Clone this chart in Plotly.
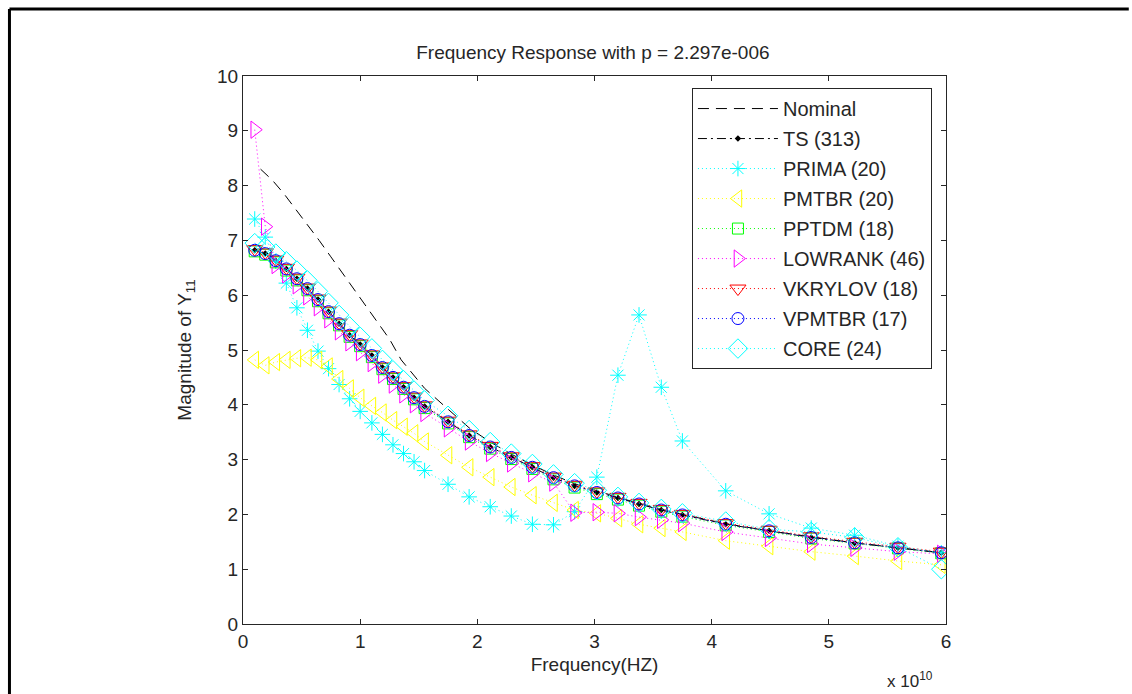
import plotly.graph_objects as go

# Frequency grid (units of 1e10 Hz)
freq = [0.10, 0.19, 0.28, 0.37, 0.46, 0.55, 0.64, 0.73, 0.82, 0.91, 1.00, 1.10, 1.19, 1.28,
        1.37, 1.46, 1.55, 1.75, 1.93, 2.11, 2.29, 2.47, 2.65, 2.83, 3.02, 3.20, 3.38, 3.57,
        3.75, 4.12, 4.49, 4.85, 5.22, 5.59, 5.96]

nominal_freq = [0.15, 0.25, 0.35, 0.45, 0.55, 0.65, 0.75, 0.85, 0.95, 1.05, 1.15, 1.25, 1.35,
                1.45, 1.55, 1.75, 1.93, 2.11, 2.29, 2.47, 2.65, 2.83, 3.02, 3.20, 3.38, 3.57,
                3.75, 4.12, 4.49, 4.85, 5.22, 5.59, 5.96]
nominal = [8.30, 8.10, 7.85, 7.57, 7.30, 7.00, 6.70, 6.40, 6.10, 5.80, 5.50, 5.20, 4.82,
           4.55, 4.30, 3.92, 3.58, 3.32, 3.10, 2.90, 2.72, 2.56, 2.43, 2.31, 2.20, 2.09,
           2.00, 1.83, 1.70, 1.59, 1.48, 1.39, 1.30]

ts = [6.82, 6.76, 6.63, 6.48, 6.30, 6.12, 5.92, 5.70, 5.48, 5.27, 5.10, 4.90, 4.68, 4.50,
      4.32, 4.13, 3.97, 3.69, 3.44, 3.23, 3.04, 2.86, 2.67, 2.52, 2.40, 2.30, 2.19, 2.08,
      1.99, 1.82, 1.70, 1.58, 1.48, 1.39, 1.30]

prima = [7.39, 7.06, 6.62, 6.22, 5.77, 5.36, 4.98, 4.66, 4.37, 4.11, 3.88, 3.67, 3.46, 3.27,
         3.11, 2.96, 2.80, 2.55, 2.32, 2.14, 1.97, 1.82, 1.81, 2.05, 2.68, 4.54, 5.64, 4.32,
         3.34, 2.43, 2.01, 1.75, 1.62, 1.42, 1.30]

pmtbr = [4.82, 4.72, 4.78, 4.82, 4.85, 4.86, 4.82, 4.70, 4.47, 4.30, 4.13, 3.98, 3.86, 3.72,
         3.60, 3.48, 3.33, 3.08, 2.86, 2.68, 2.50, 2.35, 2.21, 2.08, 2.02, 1.93, 1.82, 1.75,
         1.68, 1.52, 1.42, 1.32, 1.24, 1.15, 1.08]

pptdm = [6.80, 6.74, 6.60, 6.45, 6.27, 6.09, 5.89, 5.67, 5.45, 5.24, 5.07, 4.87, 4.65, 4.47,
         4.29, 4.10, 3.94, 3.66, 3.41, 3.20, 3.01, 2.83, 2.64, 2.49, 2.37, 2.27, 2.16, 2.05,
         1.96, 1.80, 1.68, 1.56, 1.47, 1.38, 1.29]

lowrank = [9.02, 7.25, 6.55, 6.38, 6.18, 5.98, 5.78, 5.56, 5.34, 5.14, 4.96, 4.76, 4.55, 4.37,
           4.19, 4.01, 3.85, 3.57, 3.33, 3.12, 2.93, 2.75, 2.58, 2.03, 2.04, 2.02, 1.95, 1.90,
           1.84, 1.68, 1.57, 1.46, 1.39, 1.32, 1.28]

vkrylov = [6.84, 6.78, 6.65, 6.50, 6.32, 6.14, 5.94, 5.72, 5.50, 5.29, 5.12, 4.92, 4.70, 4.52,
           4.34, 4.15, 3.99, 3.71, 3.46, 3.25, 3.06, 2.88, 2.69, 2.54, 2.42, 2.32, 2.21, 2.10,
           2.01, 1.84, 1.72, 1.60, 1.50, 1.41, 1.32]

vpmtbr = [6.82, 6.76, 6.63, 6.48, 6.30, 6.12, 5.92, 5.70, 5.48, 5.27, 5.10, 4.90, 4.68, 4.50,
          4.32, 4.13, 3.97, 3.69, 3.44, 3.23, 3.04, 2.86, 2.67, 2.52, 2.40, 2.30, 2.19, 2.08,
          1.99, 1.82, 1.70, 1.58, 1.48, 1.39, 1.30]

core = [6.95, 6.88, 6.76, 6.62, 6.45, 6.27, 6.07, 5.86, 5.64, 5.43, 5.24, 5.03, 4.82, 4.63,
        4.45, 4.26, 4.08, 3.80, 3.54, 3.32, 3.11, 2.92, 2.73, 2.57, 2.44, 2.32, 2.21, 2.10,
        2.02, 1.87, 1.73, 1.68, 1.58, 1.40, 1.00]

x_ticks = [0, 1, 2, 3, 4, 5, 6]
y_ticks = [0, 1, 2, 3, 4, 5, 6, 7, 8, 9, 10]

FONT = "Liberation Sans, Arial, sans-serif"
fig = go.Figure()

fig.add_trace(go.Scatter(x=nominal_freq, y=nominal, mode="lines", name="Nominal",
                         legendgroup="g0",
                         line=dict(color="black", width=1, dash="11px,7px")))
fig.add_trace(go.Scatter(x=freq, y=ts, mode="lines+markers", name="TS (313)",
                         legendgroup="g1",
                         line=dict(color="black", width=1, dash="9px,4px,2px,4px"),
                         marker=dict(symbol="diamond", size=5, color="black")))

series = [
    ("PRIMA (20)", prima, "#00ffff", "asterisk-open", 13),
    ("PMTBR (20)", pmtbr, "#ffff00", "triangle-left-open", 15),
    ("PPTDM (18)", pptdm, "#00ff00", "square-open", 11),
    ("LOWRANK (46)", lowrank, "#ff00ff", "triangle-right-open", 15),
    ("VKRYLOV (18)", vkrylov, "#ff0000", "triangle-down-open", 14),
    ("VPMTBR (17)", vpmtbr, "#0000ff", "circle-open", 12),
    ("CORE (24)", core, "#00ffff", "diamond-open", 15),
]
for i, (name, vals, col, sym, sz) in enumerate(series):
    fig.add_trace(go.Scatter(x=freq, y=vals, mode="lines+markers", name=name,
                             legendgroup=f"s{i}",
                             line=dict(color=col, width=1, dash="1px,3px"),
                             marker=dict(symbol=sym, size=sz, color=col,
                                         line=dict(color=col, width=1))))

axis_common = dict(showgrid=False, zeroline=False, showline=True, linecolor="#262626",
                   linewidth=1, mirror="ticks", ticks="inside", ticklen=5,
                   tickcolor="#262626", tickfont=dict(family=FONT, size=19, color="#262626"))

fig.update_xaxes(range=[0, 6], tickvals=x_ticks, ticktext=[str(v) for v in x_ticks],
                 title=dict(text="Frequency(HZ)", font=dict(family=FONT, size=19, color="#262626"),
                            standoff=6),
                 **axis_common)
fig.update_yaxes(range=[0, 10], tickvals=y_ticks, ticktext=[str(v) for v in y_ticks],
                 title=dict(text="Magnitude of Y<sub>11</sub>",
                            font=dict(family=FONT, size=19, color="#262626"), standoff=20),
                 **axis_common)

# plot area: x 243..946 px, y 76..624 px
fig.update_layout(
    width=1130, height=694,
    margin=dict(l=243, r=184, t=76, b=70),
    paper_bgcolor="white", plot_bgcolor="white",
    title=dict(text="Frequency Response with p = 2.297e-006", x=0.5247, xanchor="center",
               y=0.925, yanchor="middle", font=dict(family=FONT, size=19, color="#262626")),
    showlegend=True,
    legend=dict(x=0.98, y=0.978, xanchor="right", yanchor="top", bgcolor="white",
                bordercolor="#262626", borderwidth=1, itemwidth=80, tracegroupgap=1,
                font=dict(family=FONT, size=20, color="#262626")),
    annotations=[dict(text="x 10<sup>10</sup>", xref="paper", yref="paper", x=0.985, y=-0.078,
                      xanchor="right", yanchor="top", showarrow=False,
                      font=dict(family=FONT, size=17, color="#262626"))],
    shapes=[
        dict(type="line", xref="paper", yref="paper", x0=-0.3322, y0=1.1223, x1=1.26, y1=1.1223,
             line=dict(color="black", width=3), layer="above"),
        dict(type="line", xref="paper", yref="paper", x0=-0.3322, y0=1.1223, x1=-0.3322, y1=-0.13,
             line=dict(color="black", width=3), layer="above"),
    ],
)

fig.write_html("out.html")
